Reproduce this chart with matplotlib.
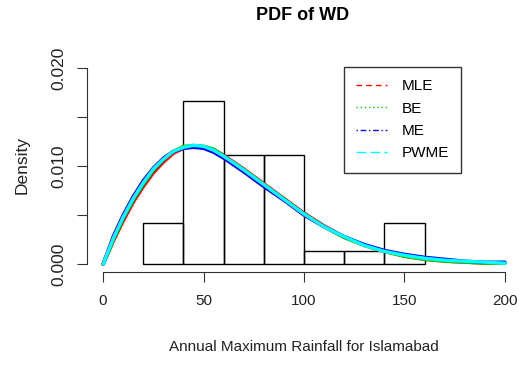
import numpy as np
import matplotlib
matplotlib.use("Agg")
import matplotlib.pyplot as plt
from matplotlib.lines import Line2D

plt.rcParams['font.family'] = ['Liberation Sans', 'DejaVu Sans']

# histogram of annual maximum rainfall (density scale)
bin_edges = [20, 40, 60, 80, 100, 120, 140, 160]
hist_density = [0.004167, 0.016667, 0.011111, 0.011111, 0.001389, 0.001389, 0.004167]

# fitted Weibull densities
x_grid = [0, 2.5, 5, 10, 15, 20, 25, 30, 35, 40, 45, 50, 55, 60, 70, 80, 90,
          100, 110, 120, 130, 140, 150, 160, 170, 180, 190, 200]
pdf_mle = [0, 0.0011, 0.0023, 0.0044, 0.0063, 0.0079, 0.0093, 0.0104, 0.0113, 0.0118,
           0.0120, 0.0120, 0.0117, 0.0111, 0.0097, 0.0082, 0.0067, 0.0052, 0.0039,
           0.0028, 0.0019, 0.0013, 0.0008, 0.0005, 0.0003, 0.0002, 0.0001, 0.0001]
pdf_be = [0, 0.0012, 0.0025, 0.0047, 0.0066, 0.0082, 0.0096, 0.0107, 0.0115, 0.0120,
          0.0121, 0.0120, 0.0117, 0.0110, 0.0096, 0.0081, 0.0066, 0.0051, 0.0038,
          0.0027, 0.0019, 0.0013, 0.0008, 0.0005, 0.0003, 0.0002, 0.0001, 0.0001]
pdf_me = [0, 0.0014, 0.0028, 0.0050, 0.0069, 0.0085, 0.0098, 0.0108, 0.0115, 0.0118,
          0.0119, 0.0118, 0.0114, 0.0108, 0.0094, 0.0079, 0.0065, 0.0050, 0.0038,
          0.0028, 0.0020, 0.0014, 0.0010, 0.0007, 0.0005, 0.0003, 0.0002, 0.0002]
pdf_pwme = [0, 0.0013, 0.0026, 0.0048, 0.0067, 0.0083, 0.0097, 0.0107, 0.0115, 0.0119,
            0.0121, 0.0120, 0.0116, 0.0110, 0.0096, 0.0081, 0.0066, 0.0051, 0.0038,
            0.0028, 0.0019, 0.0013, 0.0009, 0.0006, 0.0004, 0.0003, 0.0002, 0.0001]

methods = ["MLE", "BE", "ME", "PWME"]
colors = ["red", "#00CD00", "blue", "cyan"]
styles = [(0, (4, 3)), (0, (1, 2)), (0, (1, 2, 4, 2)), (0, (7, 3))]

W, H = 523, 367
fig = plt.figure(figsize=(W / 100, H / 100), dpi=100)
ax = fig.add_axes([87 / W, 1 - 272 / H, (521 - 87) / W, (272 - 60) / H])

widths = np.diff(bin_edges)
ax.bar(bin_edges[:-1], hist_density, width=widths, align='edge',
       fill=False, edgecolor='black', linewidth=1)

for pdf, c in zip([pdf_mle, pdf_be, pdf_me, pdf_pwme], colors):
    ax.plot(x_grid, pdf, color=c, linewidth=2.4, solid_capstyle='round')

ax.set_xlim(-8, 208)
ax.set_ylim(-0.0008, 0.0208)
ax.set_xticks([0, 50, 100, 150, 200])
ax.set_yticks([0, 0.005, 0.010, 0.015, 0.020])
ax.set_yticklabels(["0.000", "", "0.010", "", "0.020"], rotation=90, va='center',
                   fontsize=12.5)
for s in ['top', 'right']:
    ax.spines[s].set_visible(False)
ax.spines['bottom'].set_bounds(0, 200)
ax.spines['left'].set_bounds(0, 0.02)
for s in ['bottom', 'left']:
    ax.spines[s].set_color('#333333')
ax.tick_params(axis='both', length=7, width=0.8, color='#333333', labelcolor='#222222')
ax.tick_params(axis='x', pad=9, labelsize=11)
ax.tick_params(axis='y', pad=8)

fig.text(303 / W, 1 - 16 / H, "PDF of WD", ha='center', va='center',
         fontsize=13, fontweight='bold')
fig.text(304 / W, 1 - 347 / H, "Annual Maximum Rainfall for Islamabad",
         ha='center', va='center', fontsize=11, color='#222222')
fig.text(22 / W, 1 - 165 / H, "Density", ha='center', va='center',
         rotation=90, fontsize=12.5, color='#222222')

handles = [Line2D([0], [0], color=c, linestyle=ls, linewidth=1)
           for c, ls in zip(colors, styles)]
leg = ax.legend(handles, methods, loc='upper left',
                bbox_to_anchor=(344 / W, 1 - 67 / H), bbox_transform=fig.transFigure,
                fancybox=False, edgecolor='#333333', framealpha=1, fontsize=11,
                borderaxespad=0, handlelength=2.0, handletextpad=0.95,
                labelspacing=0.55, borderpad=0.8)
leg.get_frame().set_linewidth(1)

fig.savefig("out.png", dpi=100)
